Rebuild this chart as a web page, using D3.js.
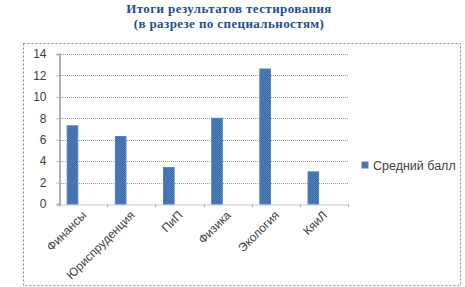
<!DOCTYPE html>
<html>
<head>
<meta charset="utf-8">
<script src="https://cdnjs.cloudflare.com/ajax/libs/d3/7.8.5/d3.min.js"></script>
<style>
  body { margin: 0; background: #fff; }
  svg { display: block; }
</style>
</head>
<body>
<script>
(function(){
    //chart data
    var categories = ["Финансы", "Юриспруденция", "ПиП", "Физика", "Экология", "КяиЛ"];
    var values = [7.3, 6.3, 3.4, 8.0, 12.6, 3.0];
    var seriesName = "Средний балл";
    var yTicks = [0, 2, 4, 6, 8, 10, 12, 14];
    var titleLines = ["Итоги результатов тестирования", "(в разрезе по специальностям)"];

    var width = 465,
        height = 287;

    var svg = d3.select("body")
        .append("svg")
        .attr("width", width)
        .attr("height", height);

    //hatched fill like the original bars
    var defs = svg.append("defs");
    var pat = defs.append("pattern")
        .attr("id", "barFill")
        .attr("width", 2)
        .attr("height", 2)
        .attr("patternUnits", "userSpaceOnUse");
    pat.append("rect").attr("width", 2).attr("height", 2).attr("fill", "#4f81bd");
    pat.append("rect").attr("width", 1).attr("height", 1).attr("fill", "#3b6aa6");
    pat.append("rect").attr("x", 1).attr("y", 1).attr("width", 1).attr("height", 1).attr("fill", "#3b6aa6");

    //title
    svg.selectAll(".title")
        .data(titleLines)
        .enter()
        .append("text")
        .attr("class", "title")
        .attr("x", 229)
        .attr("y", function(d, i){ return 13 + i * 15; })
        .attr("text-anchor", "middle")
        .style("font-family", "Liberation Serif")
        .style("font-weight", "bold")
        .style("font-size", "13px")
        .style("letter-spacing", "0.4px")
        .style("fill", "#1f4e8c")
        .text(function(d){ return d; });

    //chart area border
    svg.append("rect")
        .attr("x", 23.5)
        .attr("y", 43.5)
        .attr("width", 437)
        .attr("height", 242)
        .attr("fill", "none")
        .attr("stroke", "#8c8c8c")
        .attr("stroke-dasharray", "2,2");

    var plot = { left: 59, right: 348, top: 54, bottom: 204 };

    var x = d3.scaleBand()
        .domain(categories)
        .range([plot.left, plot.right]);

    var y = d3.scaleLinear()
        .domain([0, 14])
        .range([plot.bottom, plot.top]);

    //gridlines
    svg.selectAll(".grid")
        .data(yTicks.slice(1))
        .enter()
        .append("line")
        .attr("class", "grid")
        .attr("x1", plot.left)
        .attr("x2", plot.right)
        .attr("y1", function(d){ return Math.round(y(d)) + 0.5; })
        .attr("y2", function(d){ return Math.round(y(d)) + 0.5; })
        .attr("stroke", "#9a9a9a")
        .attr("stroke-dasharray", "1,1");

    //y axis
    var yAxis = svg.append("g")
        .attr("transform", "translate(" + (plot.left + 0.5) + ",0)")
        .call(d3.axisLeft(y).tickValues(yTicks).tickSize(3).tickPadding(10));
    yAxis.select(".domain").attr("stroke", "#b0b0b0").attr("stroke-width", 2);
    yAxis.selectAll(".tick line").attr("stroke", "#b0b0b0");
    yAxis.selectAll("text")
        .style("font-family", "Liberation Sans")
        .style("font-size", "12px")
        .style("fill", "#404040");

    //x axis
    var xAxis = svg.append("g")
        .attr("transform", "translate(0," + (plot.bottom + 0.5) + ")")
        .call(d3.axisBottom(x).tickSize(0).tickFormat(""));
    xAxis.select(".domain").attr("stroke", "#b0b0b0").attr("stroke-dasharray", "1,1").attr("stroke-width", 1.5);
    svg.selectAll(".xtick")
        .data(d3.range(categories.length + 1))
        .enter()
        .append("line")
        .attr("class", "xtick")
        .attr("x1", function(i){ return Math.round(plot.left + i * x.step()) + 0.5; })
        .attr("x2", function(i){ return Math.round(plot.left + i * x.step()) + 0.5; })
        .attr("y1", plot.bottom)
        .attr("y2", plot.bottom + 3)
        .attr("stroke", "#b0b0b0");

    //category labels
    svg.selectAll(".xlabel")
        .data(categories)
        .enter()
        .append("text")
        .attr("class", "xlabel")
        .attr("text-anchor", "end")
        .attr("transform", function(d){
            return "translate(" + (x(d) + x.bandwidth() / 2 + 4) + "," + (plot.bottom + 12) + ") rotate(-45)";
        })
        .style("font-family", "Liberation Sans")
        .style("font-size", "12px")
        .style("fill", "#404040")
        .text(function(d){ return d; });

    //bars
    svg.selectAll(".bar")
        .data(values)
        .enter()
        .append("rect")
        .attr("class", "bar")
        .attr("x", function(d, i){ return x(categories[i]) + x.bandwidth() * 0.17; })
        .attr("y", function(d){ return y(d); })
        .attr("width", x.bandwidth() * 0.22)
        .attr("height", function(d){ return y(0) - y(d); })
        .attr("fill", "url(#barFill)")
        .attr("stroke", "#4f81bd")
        .attr("stroke-width", 1);

    //legend
    var legend = svg.append("g").attr("transform", "translate(362,162)");
    legend.append("rect")
        .attr("width", 6)
        .attr("height", 6)
        .attr("fill", "url(#barFill)")
        .attr("stroke", "#4f81bd");
    legend.append("text")
        .attr("x", 11)
        .attr("y", 7.5)
        .style("font-family", "Liberation Sans")
        .style("font-size", "12.5px")
        .style("fill", "#404040")
        .text(seriesName);
})();
</script>
</body>
</html>
